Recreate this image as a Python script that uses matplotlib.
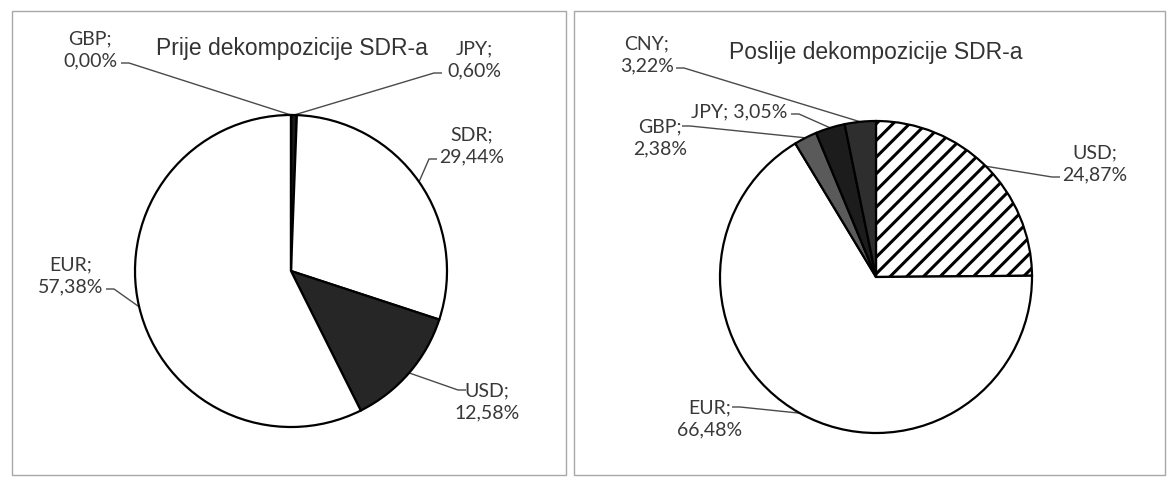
import matplotlib
matplotlib.use("Agg")
import matplotlib.pyplot as plt
from matplotlib.patches import Rectangle
import numpy as np

# ---------------- data ----------------
left_title = "Prije dekompozicije SDR-a"
left_labels = ["JPY", "SDR", "USD", "EUR", "GBP"]
left_values = [0.60, 29.44, 12.58, 57.38, 0.00]

right_title = "Poslije dekompozicije SDR-a"
right_labels = ["USD", "EUR", "GBP", "JPY", "CNY"]
right_values = [24.87, 66.48, 2.38, 3.05, 3.22]

# ---------------- styles / layout ----------------
W, H = 1171, 482
R = 156
left_colors = ["#1a1a1a", "white", "#262626", "white", "white"]
right_colors = ["white", "white", "#5a5a5a", "#1c1c1c", "#2e2e2e"]
right_hatches = ["//", None, None, None, None]

plt.rcParams["hatch.linewidth"] = 2.2
LABEL_FONT = ["Lato", "DejaVu Sans"]
TITLE_FONT = ["Liberation Sans", "DejaVu Sans"]
TXT = "#383838"

fig = plt.figure(figsize=(W / 100, H / 100), dpi=100)
fig.patch.set_facecolor("white")
ax0 = fig.add_axes([0, 0, 1, 1])
ax0.set_xlim(0, W)
ax0.set_ylim(H, 0)
ax0.axis("off")

# frames
for (x0, x1) in [(12, 566), (574, 1165)]:
    ax0.add_patch(Rectangle((x0, 11), x1 - x0, 464, fill=False,
                            edgecolor="#a8a8a8", lw=1.0))


def fmt(v):
    return f"{v:.2f}".replace(".", ",") + "%"


def make_pie(cx, cy, values, colors, hatches=None):
    ax = fig.add_axes([(cx - R) / W, 1 - (cy + R) / H, 2 * R / W, 2 * R / H])
    wedges, _ = ax.pie(values, colors=colors, startangle=90, counterclock=False,
                       radius=1.0,
                       wedgeprops=dict(edgecolor="black", linewidth=1.6))
    if hatches:
        for w, h in zip(wedges, hatches):
            if h:
                w.set_hatch(h)
    ax.set_xlim(-1, 1)
    ax.set_ylim(-1, 1)
    ax.set_aspect("auto")
    ax.axis("off")
    return ax, wedges


def edge_point(ax, w):
    ang = np.deg2rad((w.theta1 + w.theta2) / 2)
    disp = ax.transData.transform((np.cos(ang), np.sin(ang)))
    return ax0.transData.inverted().transform(disp)


axL, wL = make_pie(291, 271, left_values, left_colors)
axR, wR = make_pie(876, 277, right_values, right_colors, right_hatches)

# titles
ax0.text(292, 48, left_title, ha="center", va="center", fontsize=16.5,
         family=TITLE_FONT, color="#333333")
ax0.text(876, 52, right_title, ha="center", va="center", fontsize=16.5,
         family=TITLE_FONT, color="#333333")

# label layout: name -> (text center x, y, single line?, leader anchor x, y, stub dx)
left_layout = {
    "GBP": (90, 50, False, 121, 63, 8),
    "JPY": (474, 60, False, 442, 73, -8),
    "SDR": (472, 146, False, 437, 159, -8),
    "USD": (487, 402, False, 466, 390, -8),
    "EUR": (71, 276, False, 106, 289, 8),
}
right_layout = {
    "CNY": (647, 55, False, 676, 68, 8),
    "JPY": (739, 112, True, 791, 114, 8),
    "GBP": (660, 138, False, 682, 126, 8),
    "USD": (1095, 164, False, 1060, 177, -8),
    "EUR": (710, 419, False, 732, 407, 8),
}


def draw_labels(ax, wedges, labels, values, layout):
    for w, lab, v in zip(wedges, labels, values):
        tx, ty, single, axx, ayy, stub = layout[lab]
        sep = " " if single else "\n"
        ax0.text(tx, ty, f"{lab};{sep}{fmt(v)}", ha="center", va="center",
                 fontsize=14, family=LABEL_FONT, color=TXT, linespacing=1.4)
        px, py = edge_point(ax, w)
        ax0.plot([axx, axx + stub, px], [ayy, ayy, py], color="#4a4a4a",
                 lw=1.0, solid_capstyle="butt")


draw_labels(axL, wL, left_labels, left_values, left_layout)
draw_labels(axR, wR, right_labels, right_values, right_layout)

fig.savefig("out.png", dpi=100, facecolor="white")
